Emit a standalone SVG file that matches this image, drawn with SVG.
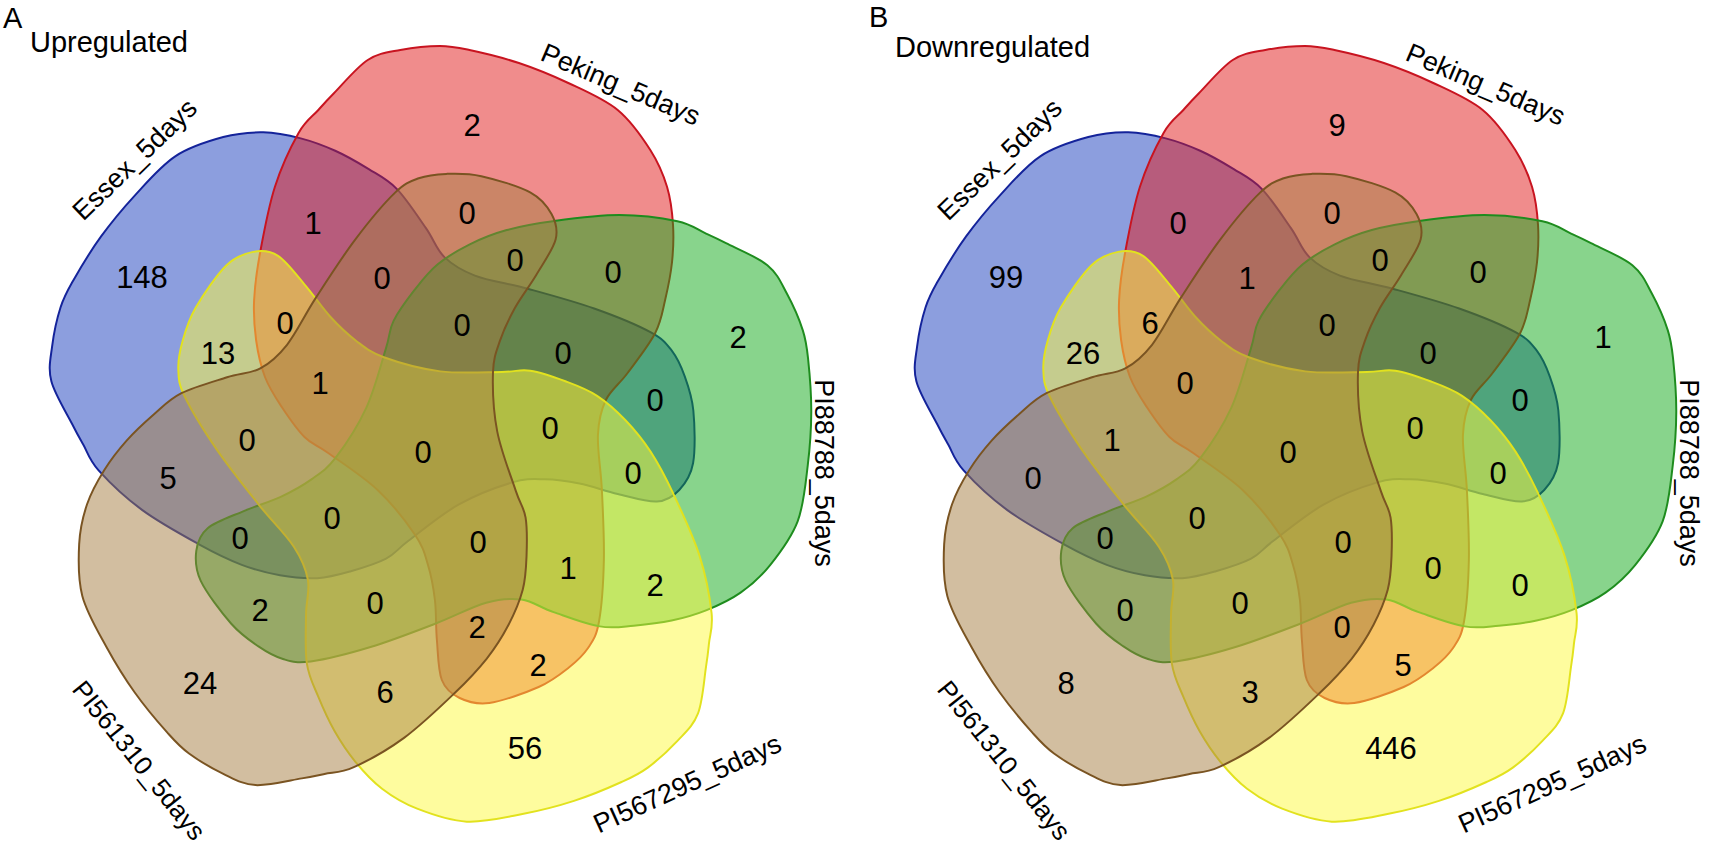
<svg xmlns="http://www.w3.org/2000/svg" width="1712" height="846" viewBox="0 0 1712 846">
<style>
.num{font-family:"Liberation Sans",Arial,sans-serif;font-size:31px;text-anchor:middle;fill:#000}
.set{font-family:"Liberation Sans",Arial,sans-serif;font-size:27px;text-anchor:middle;fill:#000}
.set2{font-family:"Liberation Sans",Arial,sans-serif;font-size:26px;text-anchor:middle;fill:#000}
.title{font-family:"Liberation Sans",Arial,sans-serif;font-size:29px;fill:#000}
.s{stroke-width:2;fill-opacity:0.5}
.essex{fill:#193DBD;stroke:#14239A}
.peking{fill:#E11919;stroke:#C81420}
.pi88{fill:#11A919;stroke:#1E8C1E}
.pi567{fill:#FDF93D;stroke:#E2E21E}
.pi561{fill:#A57D41;stroke:#7A5422}
</style>
<defs>
<path id="blob" d="M12,-395 C23.7,-395 28.7,-393.8 42,-391 S75.3,-383.5 92,-378 S125.3,-365.8 142,-358 S178.2,-342.2 192,-331 S216.7,-303.8 225,-291 S238.2,-266.5 242,-254 S247.2,-228.5 248,-216 S248.3,-191.5 247,-179 S242.8,-152.8 240,-141 S236.3,-120.2 230,-108 S210.3,-79.2 202,-68 S185,-51.3 180,-41 S172.7,-21 172,-6 S175,28.2 176,49 S178.5,97 178,119 S175.7,166.3 173,181 S167.2,199.3 162,207 S150.3,220.5 142,227 S125.3,240.2 112,246 S75.3,260.2 62,262 S40,260.8 32,257 S17.8,248.7 14,239 S10.2,212.3 9,199 S8.5,171.5 7,159 S3.3,134.8 0,124 S-4.5,106.5 -13,94 S-36.3,62.7 -51,49 S-88.7,20.8 -101,12 S-117.2,3.7 -125,-4 S-141.3,-24 -148,-34 S-160.7,-52.8 -165,-64 S-172.2,-88.2 -174,-101 S-176.7,-126.5 -176,-141 S-173.5,-169.2 -170,-188 S-161.5,-234 -155,-254 S-138.3,-295.2 -131,-308 S-117,-324.3 -111,-331 S-103.3,-339.7 -95,-348 S-72.2,-373.8 -61,-381 S-40.2,-388.7 -28,-391 S0.3,-395 12,-395 Z"/>
</defs>
<rect width="1712" height="846" fill="#fff"/>

<g id="panelA">
<text class="title" x="3" y="28">A</text>
<text class="title" x="30" y="52">Upregulated</text>
<g id="A-Essex"><use href="#blob" class="s essex" transform="translate(428,441) scale(0.988,1) rotate(288)"/><text class="set" transform="translate(141,166) rotate(-44)">Essex_5days</text></g>
<g id="A-Peking"><use href="#blob" class="s peking" transform="translate(428,441) scale(0.988,1)"/><text class="set" transform="translate(617,93) rotate(23)">Peking_5days</text></g>
<g id="A-PI88788"><use href="#blob" class="s pi88" transform="translate(428,441) scale(0.988,1) rotate(72)"/><text class="set" transform="translate(815,473) rotate(90)">PI88788_5days</text></g>
<g id="A-PI567295"><use href="#blob" class="s pi567" transform="translate(428,441) scale(0.988,1) rotate(144)"/><text class="set" transform="translate(691,792) rotate(-24.4)">PI567295_5days</text></g>
<g id="A-PI561310"><use href="#blob" class="s pi561" transform="translate(428,441) scale(0.988,1) rotate(216)"/><text class="set2" transform="translate(132,766) rotate(51.3)">PI561310_5days</text></g>
<g id="A-counts">
<text class="num" x="472" y="136">2</text>
<text class="num" x="142" y="288">148</text>
<text class="num" x="738" y="348">2</text>
<text class="num" x="200" y="694">24</text>
<text class="num" x="525" y="759">56</text>
<text class="num" x="313" y="234">1</text>
<text class="num" x="382" y="289">0</text>
<text class="num" x="285" y="334">0</text>
<text class="num" x="218" y="364">13</text>
<text class="num" x="320" y="394">1</text>
<text class="num" x="467" y="224">0</text>
<text class="num" x="515" y="271">0</text>
<text class="num" x="613" y="283">0</text>
<text class="num" x="462" y="336">0</text>
<text class="num" x="563" y="364">0</text>
<text class="num" x="655" y="411">0</text>
<text class="num" x="247" y="451">0</text>
<text class="num" x="423" y="463">0</text>
<text class="num" x="168" y="489">5</text>
<text class="num" x="332" y="529">0</text>
<text class="num" x="240" y="549">0</text>
<text class="num" x="260" y="621">2</text>
<text class="num" x="375" y="614">0</text>
<text class="num" x="385" y="703">6</text>
<text class="num" x="550" y="439">0</text>
<text class="num" x="633" y="484">0</text>
<text class="num" x="478" y="553">0</text>
<text class="num" x="568" y="579">1</text>
<text class="num" x="655" y="596">2</text>
<text class="num" x="477" y="638">2</text>
<text class="num" x="538" y="676">2</text>
</g>
</g>

<g id="panelB">
<text class="title" x="869" y="27">B</text>
<text class="title" x="895" y="57">Downregulated</text>
<g id="B-Essex"><use href="#blob" class="s essex" transform="translate(1293,441) scale(0.988,1) rotate(288)"/><text class="set" transform="translate(1006,166) rotate(-44)">Essex_5days</text></g>
<g id="B-Peking"><use href="#blob" class="s peking" transform="translate(1293,441) scale(0.988,1)"/><text class="set" transform="translate(1482,93) rotate(23)">Peking_5days</text></g>
<g id="B-PI88788"><use href="#blob" class="s pi88" transform="translate(1293,441) scale(0.988,1) rotate(72)"/><text class="set" transform="translate(1680,473) rotate(90)">PI88788_5days</text></g>
<g id="B-PI567295"><use href="#blob" class="s pi567" transform="translate(1293,441) scale(0.988,1) rotate(144)"/><text class="set" transform="translate(1556,792) rotate(-24.4)">PI567295_5days</text></g>
<g id="B-PI561310"><use href="#blob" class="s pi561" transform="translate(1293,441) scale(0.988,1) rotate(216)"/><text class="set2" transform="translate(997,766) rotate(51.3)">PI561310_5days</text></g>
<g id="B-counts">
<text class="num" x="1337" y="136">9</text>
<text class="num" x="1006" y="288">99</text>
<text class="num" x="1603" y="348">1</text>
<text class="num" x="1066" y="694">8</text>
<text class="num" x="1391" y="759">446</text>
<text class="num" x="1178" y="234">0</text>
<text class="num" x="1247" y="289">1</text>
<text class="num" x="1150" y="334">6</text>
<text class="num" x="1083" y="364">26</text>
<text class="num" x="1185" y="394">0</text>
<text class="num" x="1332" y="224">0</text>
<text class="num" x="1380" y="271">0</text>
<text class="num" x="1478" y="283">0</text>
<text class="num" x="1327" y="336">0</text>
<text class="num" x="1428" y="364">0</text>
<text class="num" x="1520" y="411">0</text>
<text class="num" x="1112" y="451">1</text>
<text class="num" x="1288" y="463">0</text>
<text class="num" x="1033" y="489">0</text>
<text class="num" x="1197" y="529">0</text>
<text class="num" x="1105" y="549">0</text>
<text class="num" x="1125" y="621">0</text>
<text class="num" x="1240" y="614">0</text>
<text class="num" x="1250" y="703">3</text>
<text class="num" x="1415" y="439">0</text>
<text class="num" x="1498" y="484">0</text>
<text class="num" x="1343" y="553">0</text>
<text class="num" x="1433" y="579">0</text>
<text class="num" x="1520" y="596">0</text>
<text class="num" x="1342" y="638">0</text>
<text class="num" x="1403" y="676">5</text>
</g>
</g>
</svg>
